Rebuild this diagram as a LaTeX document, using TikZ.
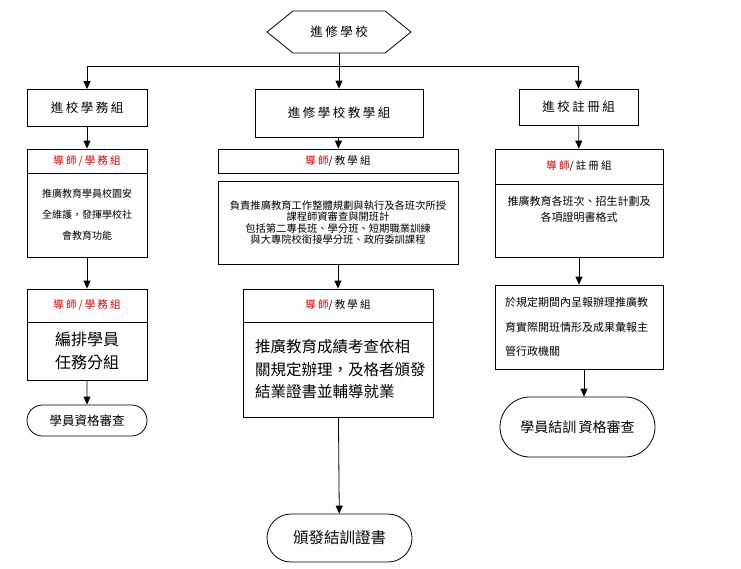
\documentclass[tikz,border=0pt]{standalone}
\usepackage{fontspec}
\newfontfamily\cjk{Noto Sans CJK TC}
\newfontfamily\cjkw[LetterSpace=20]{Noto Sans CJK TC}
\usetikzlibrary{shapes.symbols,shapes.misc,arrows.meta}
\definecolor{tred}{RGB}{214,0,0}
\begin{document}
\begin{tikzpicture}[x=1pt,y=-1pt,font=\cjk,
    box/.style={draw,line width=0.8pt,inner sep=0pt},
    term/.style={box,rounded rectangle},
    arr/.style={line width=0.8pt,-{Triangle[length=8pt,width=7pt]}},
    ln/.style={line width=0.8pt},
    big/.style={font=\cjkw\fontsize{12.5}{15}\selectfont},
    hd/.style={font=\cjkw\fontsize{10.5}{13}\selectfont}]
  \useasboundingbox (0,0) rectangle (741,568);
  % top
  \node (top) [box,signal,signal to=west and east,signal pointer angle=78,
        minimum width=144pt,minimum height=42pt,big] at (339,32) {進修學校};
  \node (lsub) [box,minimum width=120pt,minimum height=37pt,big] at (87,108) {進校學務組};
  \node (msub) [box,minimum width=168pt,minimum height=48pt,big] at (339,113) {進修學校教學組};
  \node (rsub) [box,minimum width=119pt,minimum height=36pt,big] at (578.5,107) {進校註冊組};
  \coordinate (j) at (339,66);
  \draw[ln] (top) -- (j);
  \draw[arr] (j) -- (msub);
  \draw[arr] (j) -| (lsub);
  \draw[arr] (j) -| (rsub);
  % left
  \node (lhead) [box,minimum width=120pt,minimum height=24pt,hd,text=tred] at (87,161) {導師/學務組};
  \node (lbody) [box,minimum width=120pt,minimum height=84pt,align=center,
        font=\cjk\fontsize{10}{21}\selectfont] at (87,215) {推廣教育學員校園安\\全維護，發揮學校社\\會教育功能};
  \node (lhead3) [box,minimum width=120pt,minimum height=33pt,hd,text=tred] at (87,305.5) {導師/學務組};
  \node (lbody3) [box,minimum width=120pt,minimum height=58pt,align=center,
        font=\cjk\fontsize{16}{23}\selectfont] at (87,351) {編排學員\\任務分組};
  \node (lend) [term,minimum width=120pt,minimum height=31pt,
        font=\cjk\fontsize{12.5}{14}\selectfont] at (87,420.5) {學員資格審查};
  \draw[arr] (lsub) -- (lhead);
  \draw[arr] (lbody) -- (lhead3);
  \draw[arr] (lbody3) -- (lend);
  % middle
  \node (mhead) [box,minimum width=240pt,minimum height=24pt,hd] at (338,161) {\textcolor{tred}{導師}/教學組};
  \node (mbody) [box,minimum width=240pt,minimum height=83pt,align=center,
        font=\cjk\fontsize{10.3}{11.5}\selectfont] at (338,222.5)
        {負責推廣教育工作整體規劃與執行及各班次所授\\課程師資審查與開班計\\包括第二專長班、學分班、短期職業訓練\\與大專院校銜接學分班、政府委訓課程};
  \node (mhead3) [box,minimum width=190pt,minimum height=33pt,hd] at (338,305.5) {\textcolor{tred}{導師}/教學組};
  \node (mbody3) [box,minimum width=190pt,minimum height=95pt,text width=166pt,align=left,
        font=\cjk\fontsize{15.5}{22.5}\selectfont] at (338,369.5)
        {推廣教育成績考查依相\\關規定辦理，及格者頒發\\結業證書並輔導就業\\[10pt]};
  \node (mend) [term,minimum width=145pt,minimum height=48pt,
        font=\cjk\fontsize{15.5}{17}\selectfont] at (339.5,538) {頒發結訓證書};
  \draw[arr] (msub) -- (mhead);
  \draw[arr] (mbody) -- (mhead3);
  \draw[arr] (mbody3) -- (mend);
  % right
  \node (rhead) [box,minimum width=168pt,minimum height=35pt,hd] at (579,166.5) {\textcolor{tred}{導師}/註冊組};
  \node (rbody) [box,minimum width=168pt,minimum height=73pt,align=center,
        font=\cjk\fontsize{11}{16}\selectfont] at (579,220.5)
        {推廣教育各班次、招生計劃及\\各項證明書格式\\[8pt]};
  \node (rbox) [box,minimum width=168pt,minimum height=84pt,text width=148pt,align=left,
        font=\cjk\fontsize{11}{24.5}\selectfont] at (579,327)
        {於規定期間內呈報辦理推廣教\\育實際開班情形及成果彙報主\\管行政機關};
  \node (rend) [term,minimum width=155pt,minimum height=60pt,
        font=\cjk\fontsize{14}{16}\selectfont] at (577.5,427) {學員結訓\,資格審查};
  \draw[arr] (rsub) -- (rhead);
  \draw[arr] (rbody) -- (rbox);
  \draw[arr] ([xshift=5pt]rbox.south) -- ([xshift=6.5pt]rend.north);
\end{tikzpicture}
\end{document}
